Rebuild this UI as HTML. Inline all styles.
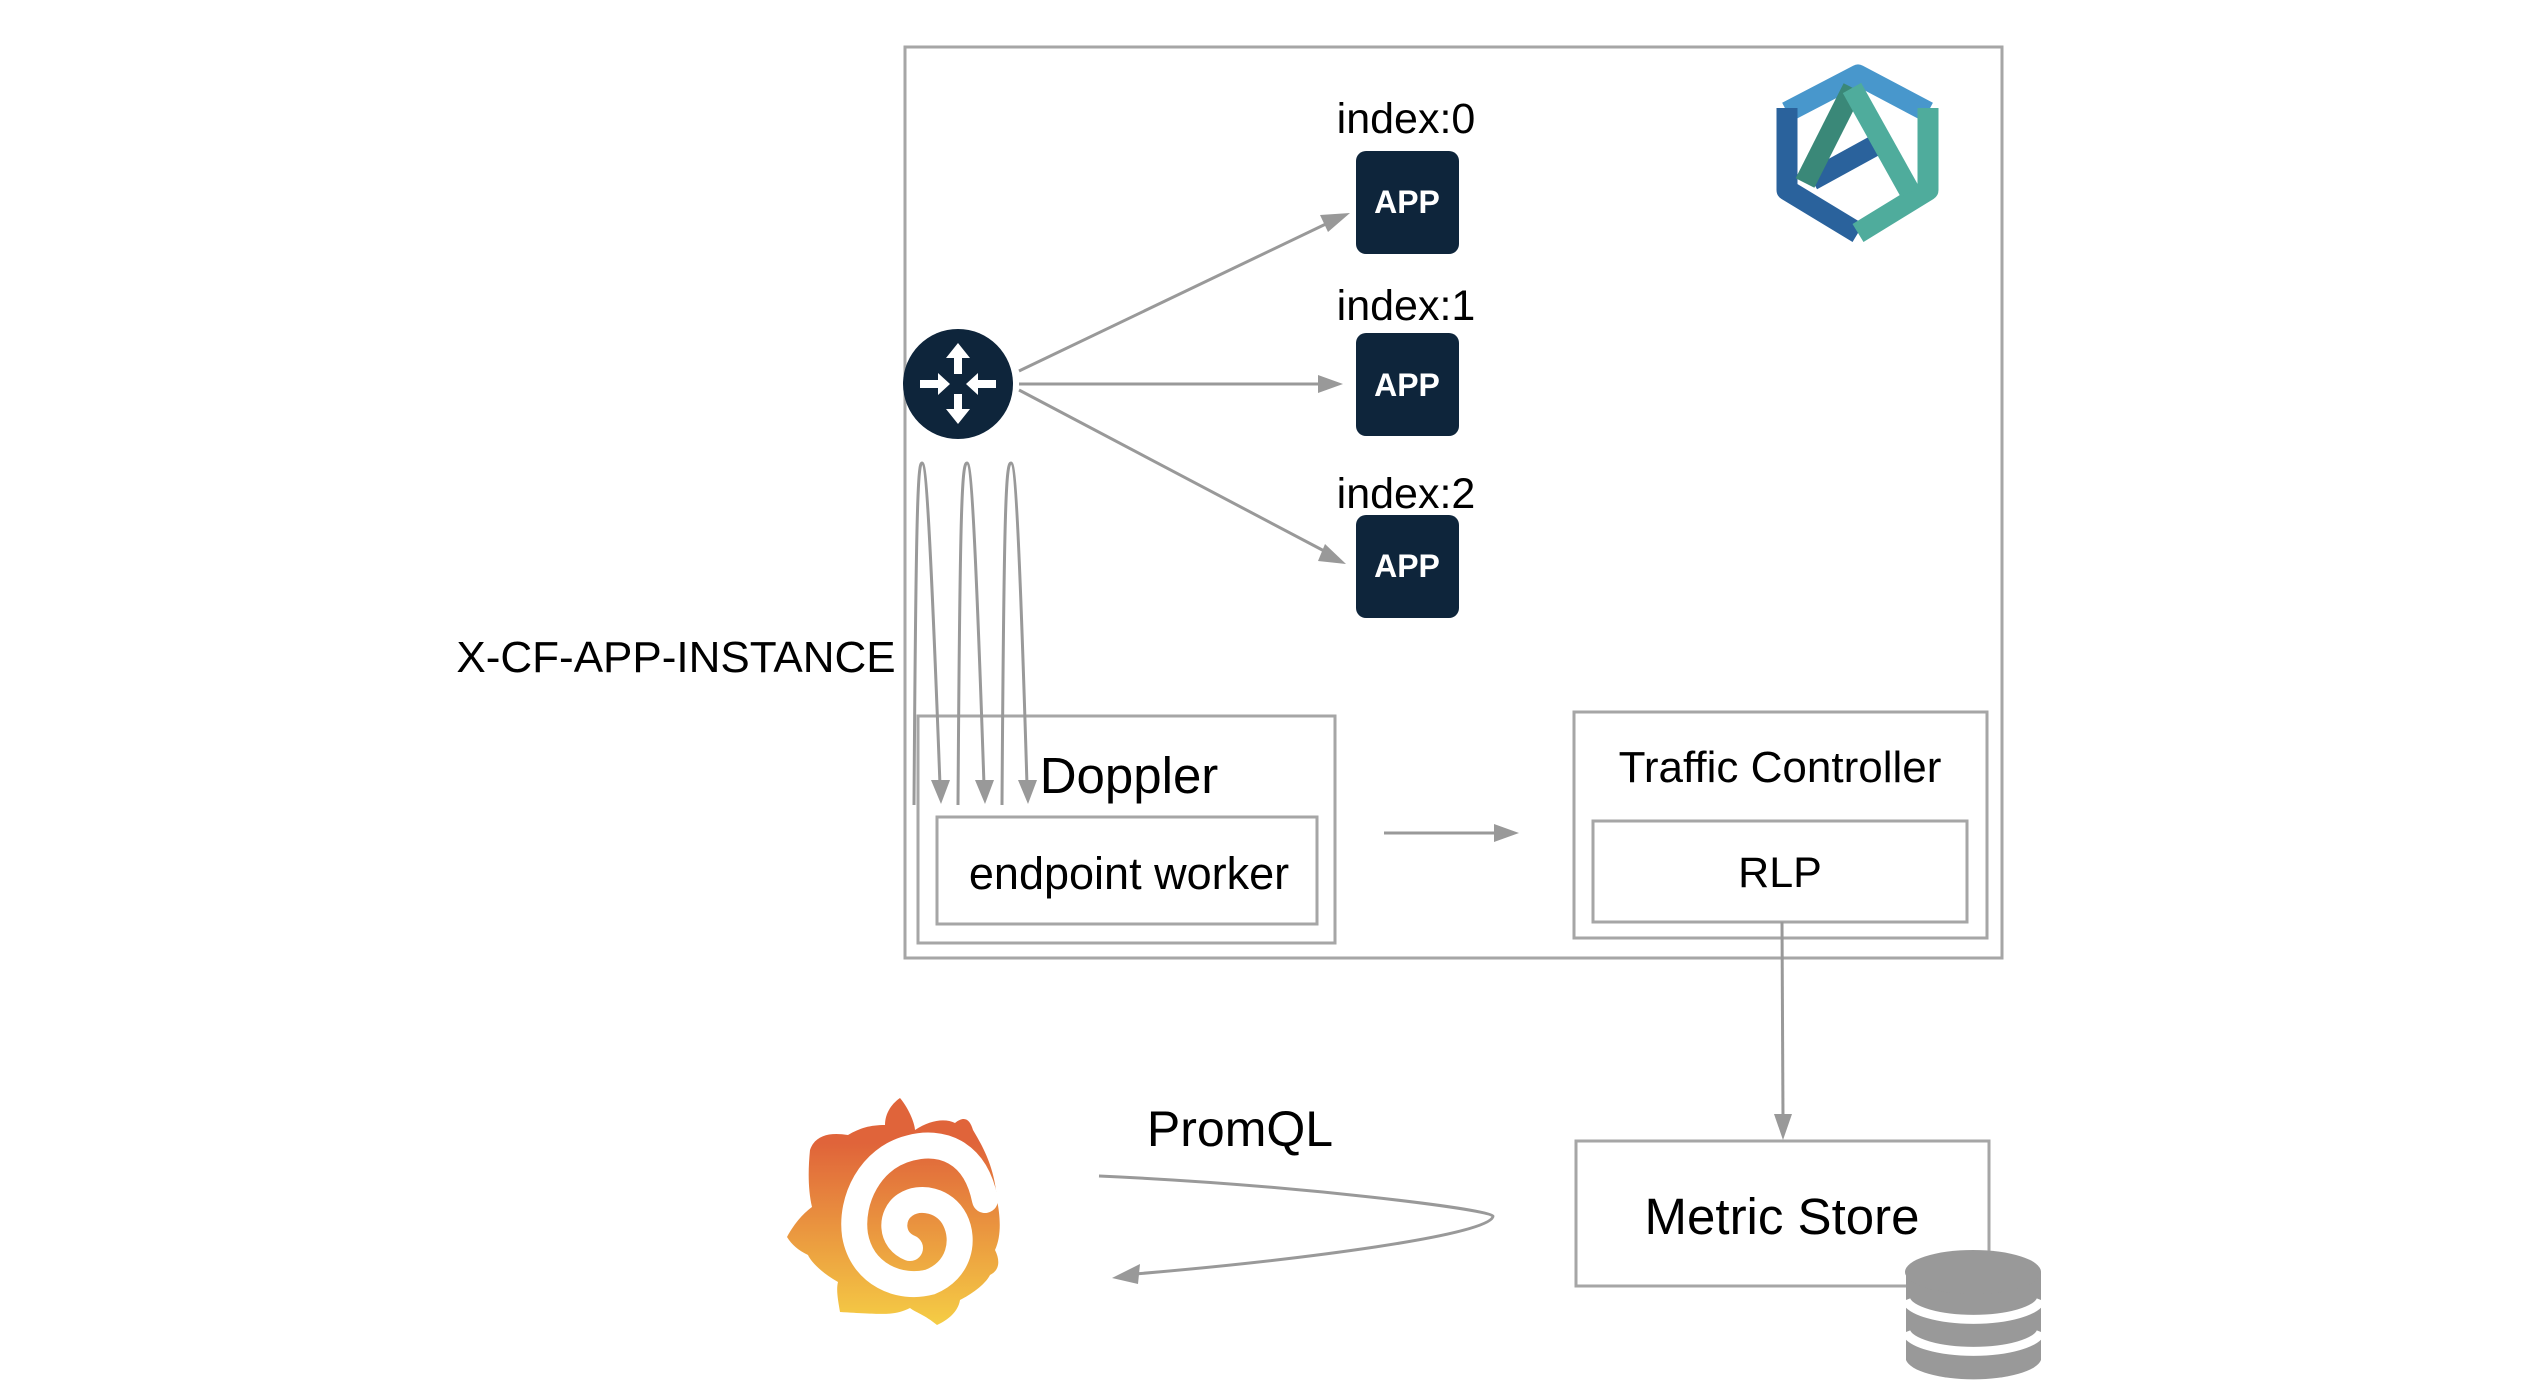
<!DOCTYPE html>
<html><head><meta charset="utf-8"><style>
html,body{margin:0;padding:0;background:#fff;}
svg{display:block;}
text{font-family:"Liberation Sans",sans-serif;}
</style></head><body>
<svg width="2536" height="1398" viewBox="0 0 2536 1398" xmlns="http://www.w3.org/2000/svg">
<defs>
<linearGradient id="gf" x1="0" y1="0" x2="0" y2="1">
<stop offset="0.2" stop-color="#e0643a"/><stop offset="1" stop-color="#f5cd45"/>
</linearGradient>
</defs>
<g fill="none" stroke="#a6a6a6" stroke-width="3">
<rect x="905" y="47" width="1097" height="911"/>
<rect x="918" y="716" width="417" height="227"/>
<rect x="937" y="817" width="380" height="107"/>
<rect x="1574" y="712" width="413" height="226"/>
<rect x="1593" y="821" width="374" height="101"/>
<rect x="1576" y="1141" width="413" height="145"/>
</g>
<g stroke="#999" stroke-width="3" fill="none">
<line x1="1019" y1="371" x2="1330" y2="222"/>
<line x1="1019" y1="384" x2="1323" y2="384"/>
<line x1="1019" y1="390" x2="1328" y2="553"/>
<path d="M914,805 C916,500 918,463 922,463 C926,463 930,520 940,785"/>
<path d="M958,805 C960,500 962,463 967,463 C971,463 975,520 984,785"/>
<path d="M1002,805 C1004,500 1006,463 1011,463 C1015,463 1019,520 1027,785"/>
<line x1="1384" y1="833" x2="1500" y2="833"/>
<line x1="1782" y1="922" x2="1783" y2="1118"/>
<path d="M1099,1176 C1300,1185 1493,1210 1493,1216 C1493,1235 1300,1260 1135,1274"/>
</g>
<g fill="#999">
<polygon points="1350,213 1320,215 1328,232"/>
<polygon points="1343,384 1318,375 1318,393"/>
<polygon points="1346,564 1325,544 1318,561"/>
<polygon points="941,804 931,780 950,780"/>
<polygon points="985,804 975,780 994,780"/>
<polygon points="1028,804 1018,780 1037,780"/>
<polygon points="1519,833 1494,824 1494,842"/>
<polygon points="1783,1140 1774,1114 1792,1114"/>
<polygon points="1112,1278 1140,1264 1138,1284"/>
</g>
<circle cx="958" cy="384" r="55" fill="#0e253b"/>
<g fill="#fff">
<polygon points="958,343 946,358 954,358 954,374 962,374 962,358 970,358"/>
<polygon points="958,424 946,409 954,409 954,394 962,394 962,409 970,409"/>
<polygon points="950,384 938,373 938,380 920,380 920,388 938,388 938,395"/>
<polygon points="966,384 978,373 978,380 996,380 996,388 978,388 978,395"/>
</g>
<g fill="#0e253b">
<rect x="1356" y="151" width="103" height="103" rx="10"/>
<rect x="1356" y="333" width="103" height="103" rx="10"/>
<rect x="1356" y="515" width="103" height="103" rx="10"/>
</g>
<g fill="#fff" font-size="32" font-weight="bold" text-anchor="middle">
<text x="1407" y="213">APP</text>
<text x="1407" y="396">APP</text>
<text x="1407" y="577">APP</text>
</g>
<g font-size="43" text-anchor="middle" fill="#000">
<text x="1406" y="133">index:0</text>
<text x="1406" y="320">index:1</text>
<text x="1406" y="508">index:2</text>
<text x="676" y="672" font-size="44">X-CF-APP-INSTANCE</text>
<text x="1129" y="793" font-size="51">Doppler</text>
<text x="1129" y="889" font-size="45">endpoint worker</text>
<text x="1780" y="782" font-size="44">Traffic Controller</text>
<text x="1780" y="887">RLP</text>
<text x="1782" y="1234" font-size="51">Metric Store</text>
<text x="1240" y="1146" font-size="50">PromQL</text>
</g>
<g fill="none" stroke-width="21" stroke-linejoin="round">
<polyline points="1787,112 1858,75 1928,112" stroke="#4897cc"/>
<polyline points="1787,108 1787,190 1858,233" stroke="#2a629c"/>
<polyline points="1928,108 1928,190 1858,233" stroke="#4fac9c"/>
<line x1="1812" y1="180" x2="1885" y2="140" stroke="#2a629c"/>
<line x1="1853" y1="88" x2="1805" y2="183" stroke="#3a8878"/>
<line x1="1852" y1="88" x2="1910" y2="192" stroke="#4fac9c"/>
</g>
<g>
<path fill="url(#gf)" d="M900,1098 C910,1110 915,1125 915,1130 C930,1120 945,1118 955,1123 C965,1115 970,1120 973,1130 C985,1150 995,1170 997,1200 C1000,1215 1002,1235 995,1250 C1000,1260 1000,1270 990,1275 C985,1285 970,1295 960,1300 C958,1312 948,1320 937,1325 C925,1315 915,1312 910,1308 C895,1315 890,1315 840,1312 C838,1300 836,1290 838,1282 C820,1272 810,1260 808,1255 C798,1250 792,1245 787,1237 C795,1222 805,1212 812,1207 C808,1190 808,1170 810,1150 C815,1135 830,1132 848,1135 C860,1128 870,1125 885,1125 C885,1115 890,1105 900,1098 Z"/>
<path fill="none" stroke="#fff" stroke-width="26" stroke-linecap="round" d="M985,1200 C975,1150 940,1140 910,1148 C870,1158 850,1200 855,1235 C862,1275 900,1290 930,1282 C960,1270 965,1240 955,1220 C945,1200 920,1195 905,1205 C890,1215 890,1240 910,1248"/>
</g>
<g fill="#999">
<path d="M1906,1272 L1906,1360 A68,22 0 0 0 2041,1360 L2041,1272 Z"/>
<ellipse cx="1973" cy="1272" rx="68" ry="22"/>
</g>
<g fill="none" stroke="#fff" stroke-width="9">
<path d="M1906,1300 A68,22 0 0 0 2041,1300"/>
<path d="M1906,1332 A68,22 0 0 0 2041,1332"/>
</g>
</svg>
</body></html>
